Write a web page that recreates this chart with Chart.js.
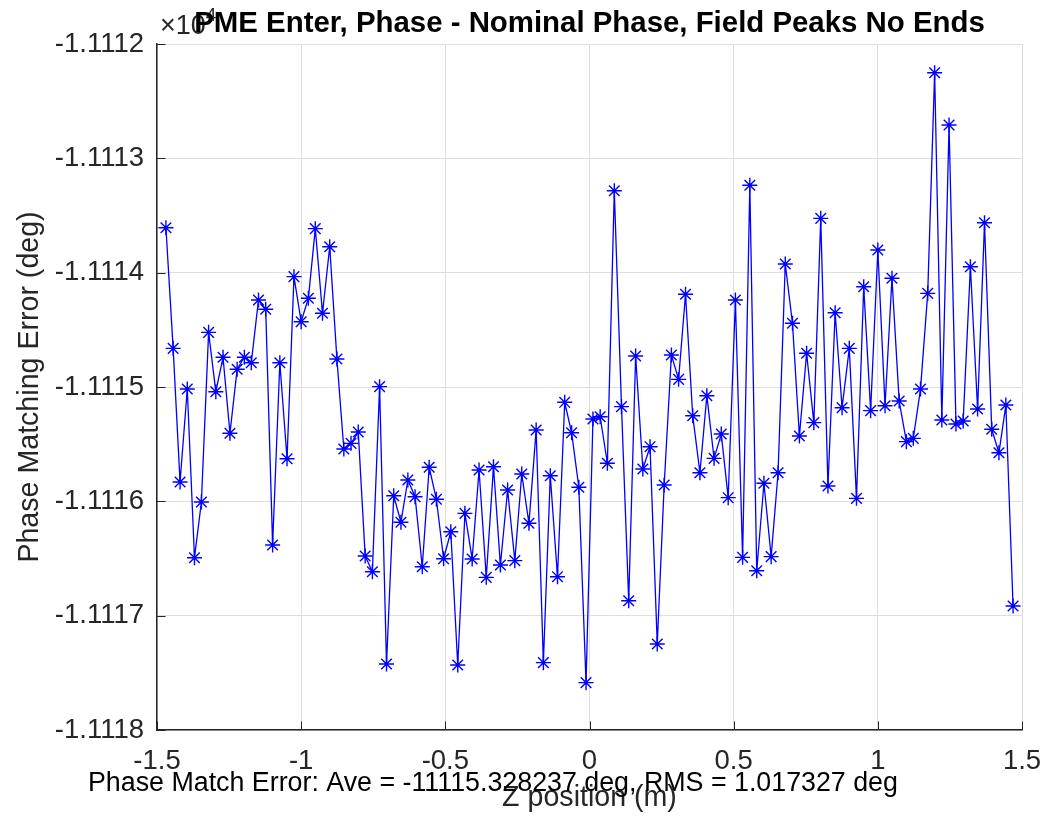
<!DOCTYPE html>
<html><head><meta charset="utf-8">
<script src="https://cdn.jsdelivr.net/npm/chart.js@4.4.0/dist/chart.umd.min.js"></script>
<style>html,body{margin:0;padding:0;background:#fff;}canvas{display:block;}</style>
</head><body>
<canvas id="c" width="1048" height="817"></canvas>
<script>
const zPositions = [
 -1.469,-1.444,-1.420,-1.395,-1.370,-1.346,-1.321,-1.296,-1.271,-1.247,
 -1.222,-1.197,-1.173,-1.148,-1.123,-1.099,-1.074,-1.049,-1.025,-1.000,
 -0.975,-0.951,-0.926,-0.901,-0.876,-0.852,-0.827,-0.802,-0.778,-0.753,
 -0.728,-0.704,-0.679,-0.654,-0.630,-0.605,-0.580,-0.556,-0.531,-0.506,
 -0.481,-0.457,-0.432,-0.407,-0.383,-0.358,-0.333,-0.309,-0.284,-0.259,
 -0.235,-0.210,-0.185,-0.160,-0.136,-0.111,-0.086,-0.062,-0.037,-0.012,
 0.012,0.037,0.062,0.086,0.111,0.136,0.160,0.185,0.210,0.235,
 0.259,0.284,0.309,0.333,0.358,0.383,0.407,0.432,0.457,0.481,
 0.506,0.531,0.556,0.580,0.605,0.630,0.654,0.679,0.704,0.728,
 0.753,0.778,0.802,0.827,0.852,0.876,0.901,0.926,0.951,0.975,
 1.000,1.025,1.049,1.074,1.099,1.123,1.148,1.173,1.197,1.222,
 1.247,1.271,1.296,1.321,1.346,1.370,1.395,1.420,1.444,1.469
];
const phaseErrors = [
 -11113.607,-11114.662,-11115.831,-11115.018,-11116.493,-11116.006,-11114.522,-11115.041,-11114.740,-11115.405,
 -11114.845,-11114.740,-11114.788,-11114.239,-11114.320,-11116.382,-11114.788,-11115.627,-11114.035,-11114.429,
 -11114.224,-11113.615,-11114.355,-11113.773,-11114.755,-11115.542,-11115.493,-11115.394,-11116.478,-11116.616,
 -11114.997,-11117.423,-11115.951,-11116.183,-11115.813,-11115.960,-11116.572,-11115.702,-11115.982,-11116.502,
 -11116.266,-11117.432,-11116.105,-11116.504,-11115.726,-11116.665,-11115.697,-11116.557,-11115.901,-11116.519,
 -11115.761,-11116.192,-11115.376,-11117.411,-11115.776,-11116.659,-11115.134,-11115.400,-11115.877,-11117.586,
 -11115.280,-11115.260,-11115.667,-11113.283,-11115.172,-11116.869,-11114.729,-11115.717,-11115.522,-11117.248,
 -11115.857,-11114.720,-11114.933,-11114.189,-11115.251,-11115.750,-11115.076,-11115.624,-11115.411,-11115.968,
 -11114.239,-11116.490,-11113.236,-11116.607,-11115.842,-11116.484,-11115.750,-11113.924,-11114.443,-11115.429,
 -11114.705,-11115.312,-11113.525,-11115.866,-11114.350,-11115.181,-11114.662,-11115.974,-11114.123,-11115.207,
 -11113.802,-11115.164,-11114.049,-11115.123,-11115.478,-11115.449,-11115.018,-11114.181,-11112.251,-11115.289,
 -11112.708,-11115.324,-11115.297,-11113.948,-11115.192,-11113.563,-11115.370,-11115.575,-11115.158,-11116.916
];
const xTickValues = [-1.5, -1, -0.5, 0, 0.5, 1, 1.5];
const yTickValues = [-11118, -11117, -11116, -11115, -11114, -11113, -11112];
const yExponent = 4;
const titleText = 'PME Enter, Phase - Nominal Phase, Field Peaks No Ends';
const xLabelText = 'Z position (m)';
const yLabelText = 'Phase Matching Error (deg)';
const footnoteText = 'Phase Match Error: Ave = -11115.328237 deg, RMS = 1.017327 deg';

const FONT = '"Liberation Sans", Arial, Helvetica, sans-serif';
const AXIS_COLOR = '#262626';
const GRID_COLOR = '#dedede';

const points = zPositions.map((z, i) => ({x: z, y: phaseErrors[i]}));

const overlay = {
  id: 'overlay',
  beforeDatasetsDraw(chart) {
    const ctx = chart.ctx, ca = chart.chartArea;
    const xs = chart.scales.x, ys = chart.scales.y;
    const len = 8.6;
    ctx.save();
    ctx.strokeStyle = AXIS_COLOR;
    ctx.lineWidth = 1;
    xs.ticks.forEach(t => {
      const px = Math.round(xs.getPixelForValue(t.value)) + 0.5;
      ctx.beginPath(); ctx.moveTo(px, ca.bottom); ctx.lineTo(px, ca.bottom - len); ctx.stroke();
    });
    ys.ticks.forEach(t => {
      const py = Math.round(ys.getPixelForValue(t.value)) + 0.5;
      ctx.beginPath(); ctx.moveTo(ca.left, py); ctx.lineTo(ca.left + len, py); ctx.stroke();
    });
    ctx.restore();
  },
  afterDraw(chart) {
    const ctx = chart.ctx, ca = chart.chartArea;
    ctx.save();
    ctx.textAlign = 'left';
    ctx.textBaseline = 'alphabetic';
    ctx.fillStyle = AXIS_COLOR;
    ctx.font = '27px ' + FONT;
    ctx.fillText('\u00d710', ca.left + 3, 34);
    const w = ctx.measureText('\u00d710').width;
    ctx.font = '19px ' + FONT;
    ctx.fillText(String(yExponent), ca.left + 3 + w, 21);
    ctx.fillStyle = '#000';
    ctx.font = 'bold 29.4px ' + FONT;
    ctx.textAlign = 'center';
    ctx.fillText(titleText, (ca.left + ca.right) / 2, 32);
    ctx.font = '26.8px ' + FONT;
    ctx.textAlign = 'left';
    ctx.fillText(footnoteText, 88, 791);
    ctx.restore();
  }
};

new Chart(document.getElementById('c'), {
  type: 'line',
  data: {
    datasets: [{
      data: points,
      borderColor: '#0000ff',
      backgroundColor: '#0000ff',
      borderWidth: 1.3,
      pointStyle: 'star',
      pointRadius: 7.5,
      pointBorderColor: '#0000ff',
      pointBorderWidth: 1.4,
      pointHoverRadius: 7.5,
      fill: false,
      tension: 0
    }]
  },
  options: {
    responsive: false,
    animation: false,
    events: [],
    layout: {padding: {left: 0, top: 44, right: 26, bottom: 0}},
    plugins: {legend: {display: false}, tooltip: {enabled: false}, title: {display: false}},
    scales: {
      x: {
        type: 'linear',
        min: -1.5, max: 1.5,
        afterBuildTicks: s => { s.ticks = xTickValues.map(v => ({value: v})); },
        afterFit: s => { s.height = 87; s.paddingLeft = 0; s.paddingRight = 0; },
        grid: {color: GRID_COLOR, lineWidth: 1, drawTicks: false},
        border: {display: true, color: AXIS_COLOR, width: 1.5},
        ticks: {color: AXIS_COLOR, font: {family: FONT, size: 27.5}, padding: 15, maxRotation: 0, autoSkip: false,
                callback: v => String(v)},
        title: {display: true, text: xLabelText, color: AXIS_COLOR, font: {family: FONT, size: 28.6}, padding: {top: 0, bottom: 2}}
      },
      y: {
        type: 'linear',
        min: -11118, max: -11112,
        afterBuildTicks: s => { s.ticks = yTickValues.map(v => ({value: v})); },
        afterFit: s => { s.width = 157; s.paddingTop = 0; s.paddingBottom = 0; },
        grid: {color: GRID_COLOR, lineWidth: 1, drawTicks: false},
        border: {display: true, color: AXIS_COLOR, width: 1.5},
        ticks: {color: AXIS_COLOR, font: {family: FONT, size: 27.5}, padding: 13, autoSkip: false,
                callback: v => (v / Math.pow(10, yExponent)).toFixed(4)},
        title: {display: true, text: yLabelText, color: AXIS_COLOR, font: {family: FONT, size: 28.6}, padding: {top: 13, bottom: 0}}
      }
    }
  },
  plugins: [overlay]
});
</script>
</body></html>
